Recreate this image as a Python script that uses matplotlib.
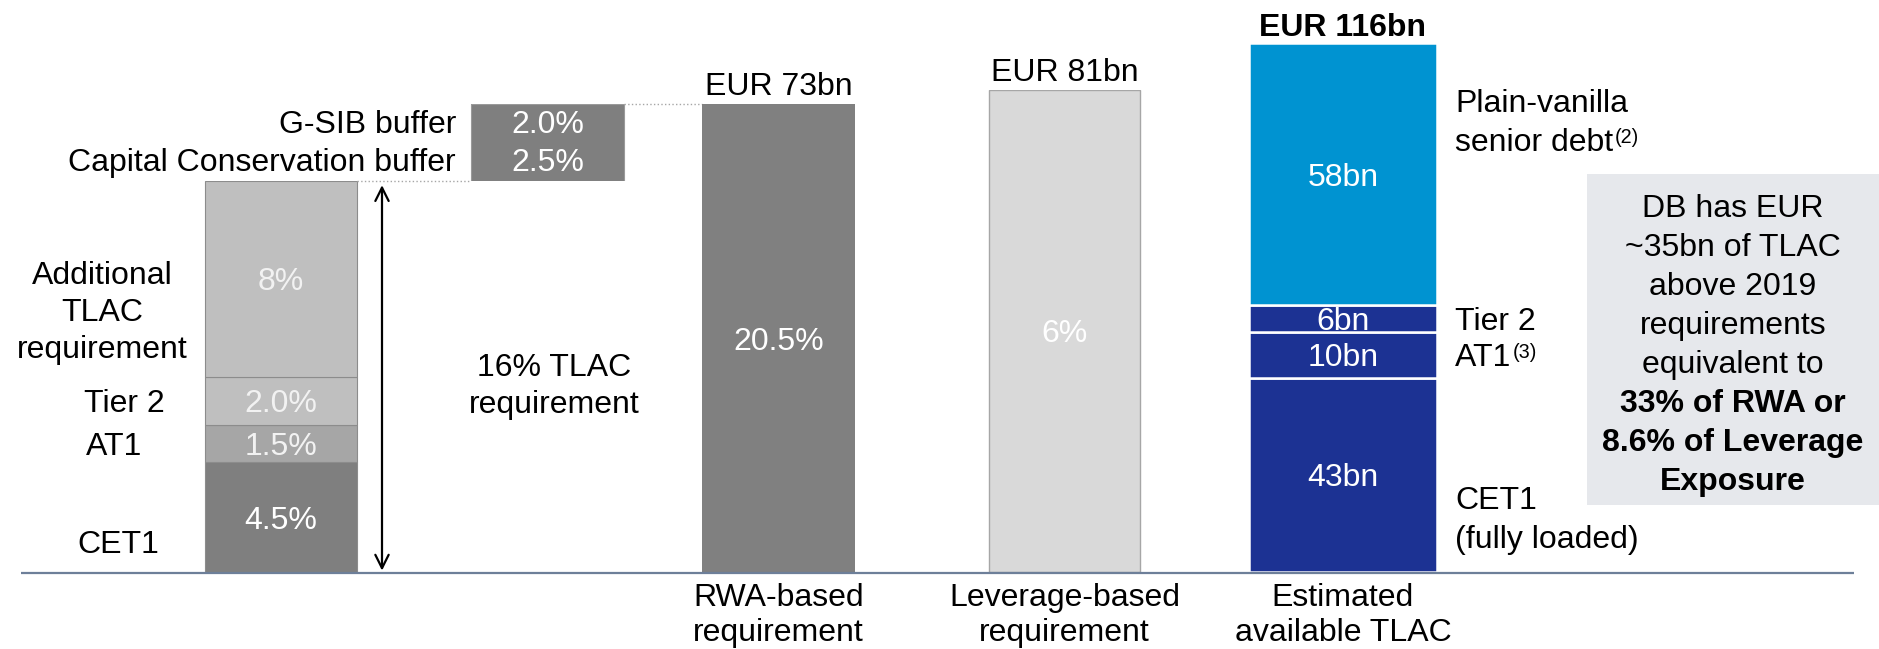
import matplotlib
matplotlib.use('Agg')
import matplotlib.pyplot as plt
from matplotlib.patches import Rectangle

# ---------------- data ----------------
stack_labels = ['CET1', 'AT1', 'Tier 2', 'Additional\nTLAC\nrequirement']
stack_values = [4.5, 1.5, 2.0, 8.0]
stack_text = ['4.5%', '1.5%', '2.0%', '8%']
tlac_req_label = '16% TLAC\nrequirement'

buffer_labels = ['Capital Conservation buffer', 'G-SIB buffer']
buffer_values = [2.5, 2.0]
buffer_text = ['2.5%', '2.0%']

req_categories = ['RWA-based\nrequirement', 'Leverage-based\nrequirement']
req_pct = [20.5, 6.0]
req_pct_text = ['20.5%', '6%']
req_amount_text = ['EUR 73bn', 'EUR 81bn']

tlac_category = 'Estimated\navailable TLAC'
tlac_labels = ['CET1\n(fully loaded)', 'AT1', 'Tier 2', 'Plain-vanilla\nsenior debt']
tlac_notes = ['', '(3)', '', '(2)']
tlac_values = [43, 10, 6, 58]
tlac_text = ['43bn', '10bn', '6bn', '58bn']
tlac_total_text = 'EUR 116bn'

box_lines = ['DB has EUR', '~35bn of TLAC', 'above 2019', 'requirements', 'equivalent to']
box_bold_lines = ['33% of RWA or', '8.6% of Leverage', 'Exposure']

# ---------------- layout / style ----------------
W, H = 1879, 649
BASE = 572            # pixel row of the baseline
FS = 23
PX = 100 / 72         # px per pt
plt.rcParams['font.family'] = ['Liberation Sans', 'DejaVu Sans']

C_CET1, C_AT1, C_LIGHT = '#7f7f7f', '#a6a6a6', '#bfbfbf'
C_NAVY, C_BLUE = '#1c3293', '#0093d1'
C_LEV, C_LEV_EDGE = '#d9d9d9', '#a6a6a6'
C_BOX = '#e6e8ec'
C_BASE = '#6d7f99'

fig = plt.figure(figsize=(W / 100, H / 100), dpi=100)
L = fig.add_axes([0, 0, 1, 1])
L.set_xlim(0, W)
L.set_ylim(H, 0)
L.axis('off')
L.set_zorder(5)
L.patch.set_alpha(0)


def column_axes(ylo, yhi, p_lo, p_hi):
    ax = fig.add_axes([0, (H - p_lo) / H, 1, (p_lo - p_hi) / H])
    ax.set_xlim(0, W)
    ax.set_ylim(ylo, yhi)
    ax.axis('off')
    return ax


def px_y(ax, y):
    disp = ax.transData.transform((0, y))
    return L.transData.inverted().transform(disp)[1]


def lines(x, yc, s, ha='center', step=38.5, weight='normal', color='black', size=FS):
    """Draw a (multi-line) label whose block is vertically centred on yc (pixels)."""
    parts = s.split('\n')
    n = len(parts)
    arts = []
    for i, p in enumerate(parts):
        yb = yc + (i - (n - 1) / 2) * step + 0.358 * size * PX
        arts.append(L.text(x, yb, p, ha=ha, va='baseline', fontsize=size,
                           fontweight=weight, color=color))
    return arts


def note(art, s):
    L.annotate(s, xy=(1, 1), xycoords=art, xytext=(1, 0), textcoords='offset points',
               ha='left', va='top', fontsize=FS * 0.62)


def cum(vals):
    out, b = [], 0
    for v in vals:
        out.append(b)
        b += v
    return out


# ---------- left stack (16% TLAC requirement) ----------
STACK_TOP, RWA_TOP, LEV_TOP, TLAC_TOP = 181, 104, 90, 43
stack_total = sum(stack_values)
ax_s = column_axes(0, stack_total, BASE, STACK_TOP)
sx, sw = 281, 152
sb = cum(stack_values)
ax_s.bar(sx, stack_values, width=sw, bottom=sb,
         color=[C_CET1, C_AT1, C_LIGHT, C_LIGHT], edgecolor='#8c8c8c', linewidth=0.8)
in_cols = ['white', '#f2f2f2', '#f2f2f2', '#f2f2f2']
for v, b, t, c in zip(stack_values, sb, stack_text, in_cols):
    ax_s.text(sx, b + v / 2, t, ha='center', va='center_baseline', fontsize=FS, color=c)
left_x = [118, 114, 124, 102]
left_y = [542, None, None, 310]
for v, b, lab, x, ly in zip(stack_values, sb, stack_labels, left_x, left_y):
    yc = ly if ly is not None else px_y(ax_s, b + v / 2)
    lines(x, yc, lab, step=37)

ax_s.annotate('', xy=(382, stack_total), xytext=(382, 0),
              arrowprops=dict(arrowstyle='<->', color='black', lw=1.6, mutation_scale=24,
                              shrinkA=1, shrinkB=3), annotation_clip=False)
lines(554, 383, tlac_req_label, step=37)

# ---------- buffers ----------
buf_total = stack_total + sum(buffer_values)
ax_b = column_axes(stack_total, buf_total, STACK_TOP, RWA_TOP)
bx, bw = 547.5, 153
bb = [stack_total + c for c in cum(buffer_values)]
ax_b.bar(bx, buffer_values, width=bw, bottom=bb, color=C_CET1, edgecolor='none')
ax_b.bar(bx, sum(buffer_values), width=bw, bottom=stack_total, fill=False,
         edgecolor='#9a9a9a', linewidth=0.8)
for v, b, t, lab in zip(buffer_values, bb, buffer_text, buffer_labels):
    ax_b.text(bx, b + v / 2, t, ha='center', va='center_baseline', fontsize=FS, color='white')
    lines(456, px_y(ax_b, b + v / 2), lab, ha='right')
ax_s.plot([sx + sw / 2, bx - bw / 2], [stack_total, stack_total], ls=':', color='#a6a6a6',
          lw=1, clip_on=False)
ax_b.plot([bx + bw / 2, 702], [buf_total, buf_total], ls=':', color='#a6a6a6',
          lw=1, clip_on=False)

# ---------- RWA / leverage requirement ----------
CAT_Y, CAT_STEP = 612, 35
req_x = [778.5, 1064.5]
req_w = [153, 151]
req_top = [RWA_TOP, LEV_TOP]
req_style = [dict(color='#808080', edgecolor='none'),
             dict(color=C_LEV, edgecolor=C_LEV_EDGE, linewidth=1)]
for i in range(2):
    ax = column_axes(0, req_pct[i], BASE, req_top[i])
    ax.bar(req_x[i], req_pct[i], width=req_w[i], **req_style[i])
    ax.text(req_x[i], req_pct[i] / 2, req_pct_text[i], ha='center', va='center_baseline',
            fontsize=FS, color='white')
    ax.annotate(req_amount_text[i], xy=(req_x[i], req_pct[i]), xytext=(0, 6.5),
                textcoords='offset points', ha='center', va='baseline', fontsize=FS,
                annotation_clip=False)
    lines(req_x[i], CAT_Y, req_categories[i], step=CAT_STEP)

# ---------- available TLAC ----------
tlac_sum = sum(tlac_values)
ax_t = column_axes(0, tlac_sum, BASE, TLAC_TOP)
tx, tw = 1343, 188
tb = cum(tlac_values)
ax_t.bar(tx, tlac_values, width=tw, bottom=tb,
         color=[C_NAVY, C_NAVY, C_NAVY, C_BLUE], edgecolor='white', linewidth=1.8)
for v, b, t in zip(tlac_values, tb, tlac_text):
    ax_t.text(tx, b + v / 2, t, ha='center', va='center_baseline', fontsize=FS, color='white')
ax_t.annotate(tlac_total_text, xy=(tx, tlac_sum), xytext=(0, 5),
              textcoords='offset points', ha='center', va='baseline', fontsize=FS,
              fontweight='bold', annotation_clip=False)
lines(tx, CAT_Y, tlac_category, step=CAT_STEP)

right_y = [517, None, None, 120]
for v, b, lab, nt, ry in zip(tlac_values, tb, tlac_labels, tlac_notes, right_y):
    yc = ry if ry is not None else px_y(ax_t, b + v / 2)
    arts = lines(1455, yc, lab, ha='left', step=39)
    if nt:
        note(arts[-1], nt)

# ---------- summary box ----------
L.add_patch(Rectangle((1587, 174), W - 1587, 331, facecolor=C_BOX, edgecolor='none', zorder=0))
all_box = box_lines + box_bold_lines
for i, s in enumerate(all_box):
    L.text(1733, 217 + 39 * i, s, ha='center', va='baseline', fontsize=FS,
           fontweight='bold' if s in box_bold_lines else 'normal')

# ---------- baseline ----------
L.plot([21, 1854], [573, 573], color=C_BASE, lw=1.6, solid_capstyle='butt')

fig.savefig('out.png', dpi=100)
